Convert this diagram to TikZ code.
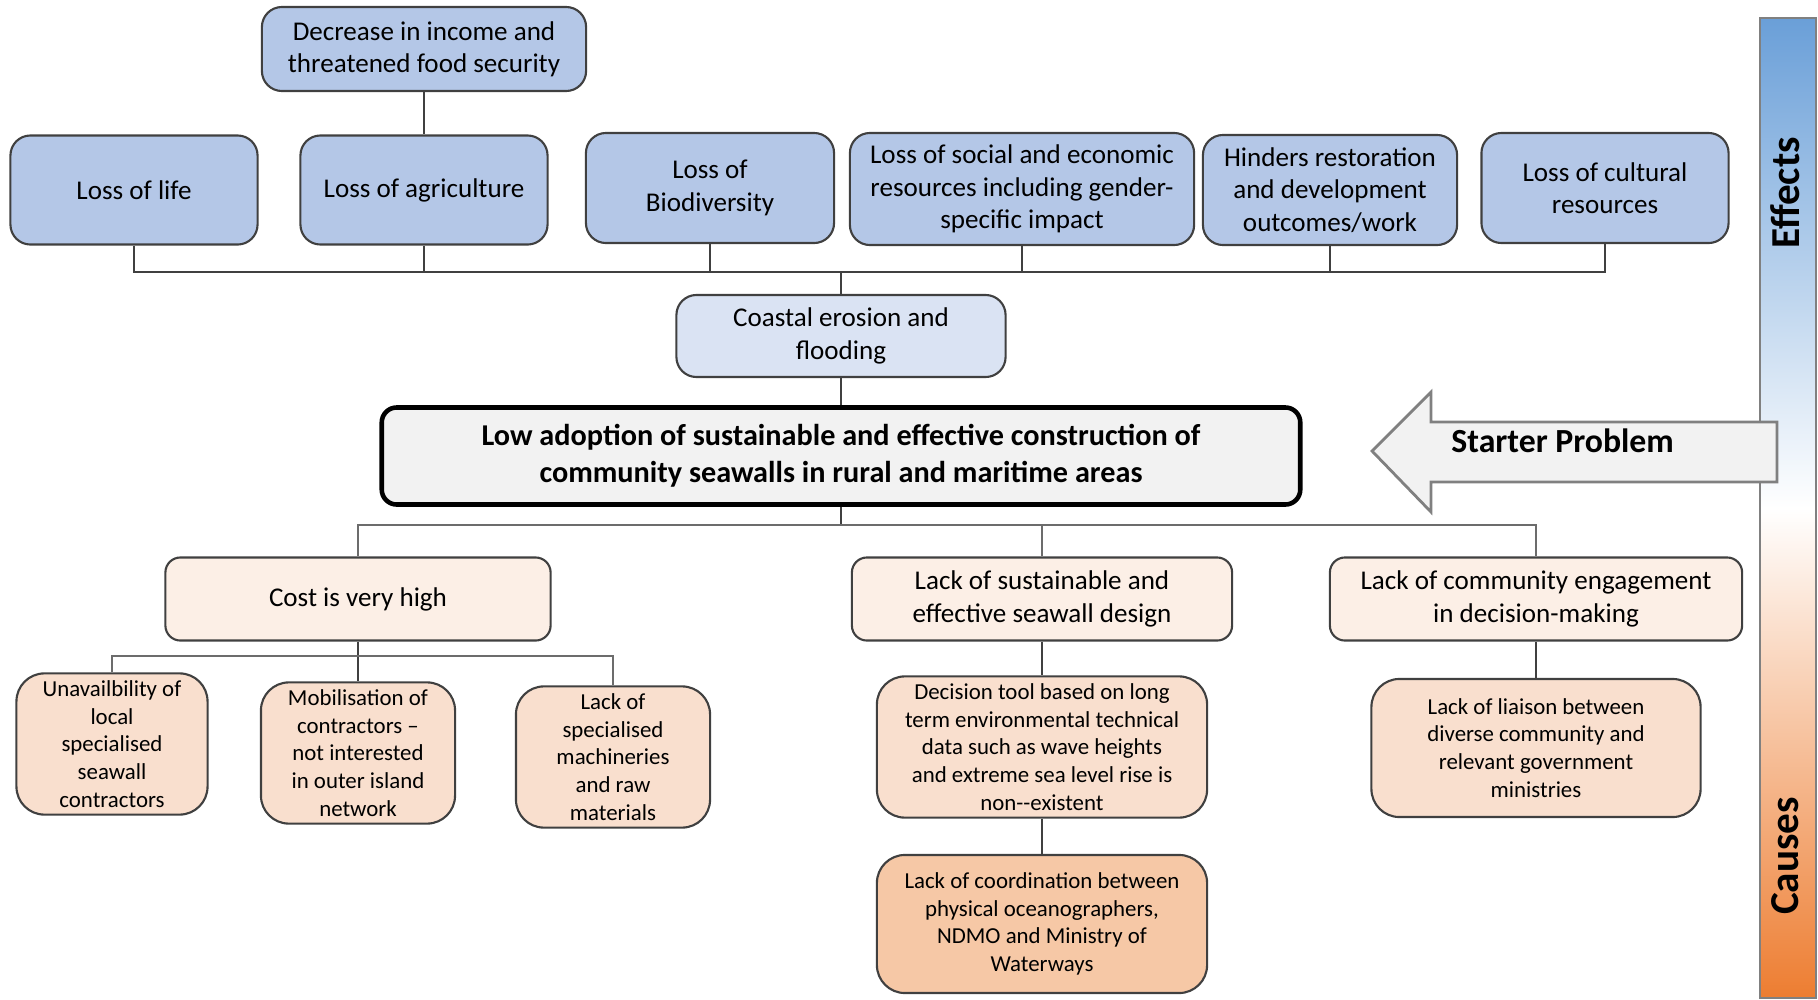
\documentclass[tikz,border=0pt]{standalone}
\usepackage{fontspec}
\setmainfont{Carlito}
\usepackage{tikz}
\usetikzlibrary{
  calc,
  shapes,
  arrows.meta
}
\definecolor{effblue}{HTML}{B4C7E7}
\definecolor{coastblue}{HTML}{DAE3F3}
\definecolor{probgray}{HTML}{F2F2F2}
\definecolor{causepeach}{HTML}{FCEFE6}
\definecolor{subpeach}{HTML}{F9DFCE}
\definecolor{deeppeach}{HTML}{F6C8A6}
\definecolor{barblue}{HTML}{6A9FD8}
\definecolor{barorange}{HTML}{ED7D31}
\definecolor{boxline}{HTML}{404040}

\begin{document}
\begin{tikzpicture}[x = 0.01cm, y = -0.01cm]
  \tikzset{
    box/.style = {draw = boxline, line width = 0.6pt, align = center, inner sep = 2pt, text = black},
    effect/.style = {box, fill = effblue, rounded corners = 0.2cm, font = \fontsize{7.7}{9.2}\selectfont},
    cause/.style = {box, fill = causepeach, rounded corners = 0.15cm, minimum height = 0.83cm, font = \fontsize{7.7}{9.2}\selectfont},
    subcause/.style = {box, fill = subpeach, rounded corners = 0.28cm, minimum height = 1.38cm, font = \fontsize{6.5}{7.9}\selectfont},
    link/.style = {draw = boxline, line width = 0.5pt},
    bus/.style = {draw = gray!85!black, line width = 0.7pt}
  }
  \useasboundingbox (0,0) rectangle (1818,1000);

  % side bar
  \shade[top color = barblue, bottom color = barorange, middle color = white, draw = gray] (1760,18) rectangle (1816,998);
  \node[rotate = 90, font = \bfseries\fontsize{11.7}{14}\selectfont] (effects) at (1785,193) {Effects};
  \node[rotate = 90, font = \bfseries\fontsize{11.7}{14}\selectfont] (causes) at (1785,856) {Causes};

  % effects
  \node[effect, minimum width = 3.24cm, minimum height = 0.84cm] (income) at (424,49) {Decrease in income and\\threatened food security};
  \node[effect, minimum width = 2.47cm, minimum height = 1.09cm] (life) at (134,190) {Loss of life};
  \node[effect, minimum width = 2.47cm, minimum height = 1.09cm] (agri) at (424,190) {Loss of agriculture};
  \node[effect, minimum width = 2.48cm, minimum height = 1.1cm] (biodiv) at (710,188) {Loss of\\Biodiversity};
  \node[effect, minimum width = 3.44cm, minimum height = 1.12cm] (social) at (1022,189) {Loss of social and economic\\resources including gender-\\specific impact};
  \node[effect, minimum width = 2.54cm, minimum height = 1.1cm] (hinder) at (1330,190) {Hinders restoration\\and development\\outcomes/work};
  \node[effect, minimum width = 2.47cm, minimum height = 1.1cm] (culture) at (1605,188) {Loss of cultural\\resources};
  \node[effect, fill = coastblue, minimum width = 3.29cm, minimum height = 0.82cm] (coast) at (841,336) {Coastal erosion and\\flooding};

  \coordinate (ebus) at (841,272);
  \draw[link] (life.south) |- (ebus) -| (culture.south);
  \foreach \n in {agri, biodiv, social, hinder} \draw[link] (\n.south) -- (\n.south |- ebus);
  \draw[link] (income) -- (agri);
  \draw[link] (coast) -- (ebus);

  % starter problem
  \node[box, draw = black, line width = 1.3pt, fill = probgray, rounded corners = 0.15cm, minimum width = 9.18cm, minimum height = 0.97cm, font = \bfseries\fontsize{8.6}{10.5}\selectfont] (problem) at (841,456) {Low adoption of sustainable and effective construction of\\community seawalls in rural and maritime areas};
  \draw[link] (coast) -- (problem);

  \filldraw[fill = probgray, draw = gray, line width = 0.8pt] (1372,451) -- (1431,392) -- (1431,422) -- (1777,422) -- (1777,482) -- (1431,482) -- (1431,512) -- cycle;
  \node[anchor = base west, font = \bfseries\fontsize{9.6}{11}\selectfont] (starter) at (1439,452) {Starter Problem};

  % causes
  \node[cause, minimum width = 3.85cm] (cost) at (358,599) {Cost is very high};
  \node[cause, minimum width = 3.8cm] (design) at (1042,599) {Lack of sustainable and\\effective seawall design};
  \node[cause, minimum width = 4.12cm] (engage) at (1536,599) {Lack of community engagement\\in decision-making};

  \coordinate (cbus) at (841,525);
  \draw[link] (problem) -- (cbus);
  \draw[bus] (cost.north) |- (cbus) -| (engage.north);
  \draw[bus] (design.north) -- (design.north |- cbus);

  \node[subcause, minimum width = 1.91cm] (unavail) at (112,744) {Unavailbility of\\local\\specialised\\seawall\\contractors};
  \node[subcause, minimum width = 1.94cm] (mobilise) at (358,753) {Mobilisation of\\contractors \textendash\\not interested\\in outer island\\network};
  \node[subcause, minimum width = 1.94cm] (machine) at (613,757) {Lack of\\specialised\\machineries\\and raw\\materials};
  \node[subcause, minimum width = 3.3cm] (tool) at (1042,747) {Decision tool based on long\\term environmental technical\\data such as wave heights\\and extreme sea level rise is\\non-{}-existent};
  \node[subcause, fill = deeppeach, minimum width = 3.3cm] (coord) at (1042,924) {Lack of coordination between\\physical oceanographers,\\NDMO and Ministry of\\Waterways};
  \node[subcause, minimum width = 3.29cm] (liaison) at (1536,748) {Lack of liaison between\\diverse community and\\relevant government\\ministries};

  \coordinate (kbus) at (358,656);
  \draw[link] (cost) -- (mobilise);
  \draw[bus] (unavail.north) |- (kbus) -| (machine.north);
  \draw[link] (design) -- (tool);
  \draw[link] (tool) -- (coord);
  \draw[link] (engage) -- (liaison);
\end{tikzpicture}
\end{document}
